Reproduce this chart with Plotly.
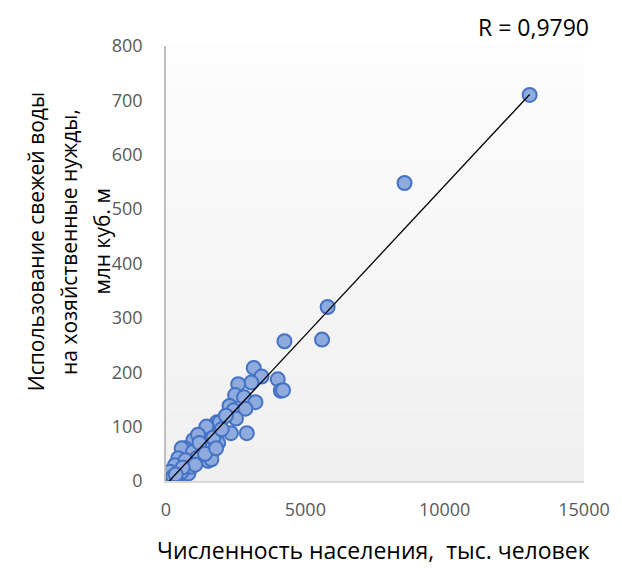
import numpy as np
import plotly.graph_objects as go

# население, тыс. человек
population = [
    13050, 8560, 5800, 5600, 4250, 3150, 3430, 3060, 2590, 4010,
    4120, 4200, 2480, 2800, 3210, 2280, 2430, 2850, 2510, 1830,
    1550, 1680, 2330, 2900, 1270, 980, 1870, 1510, 680, 1100,
    620, 1510, 980, 440, 800, 260, 560, 80, 25, 800,
    1930, 1450, 1150, 1320, 560, 970, 1630, 440, 1100, 740,
    320, 920, 140, 560, 260, 1200, 1700, 2000, 1400, 700,
    1050, 600, 350, 2150, 1800,
]
# использование свежей воды на хоз. нужды, млн куб. м
water_use = [
    710, 548, 320, 260, 257, 208, 192, 181, 178, 187,
    166, 167, 158, 154, 145, 138, 130, 133, 115, 108,
    97, 90, 88, 88, 78, 75, 70, 63, 60, 57,
    45, 37, 40, 30, 23, 20, 14, 8, 5, 14,
    108, 100, 85, 63, 60, 54, 40, 42, 42, 33,
    29, 26, 17, 17, 8, 70, 80, 95, 50, 38,
    30, 25, 12, 120, 60,
]
x_ticks = [0, 5000, 10000, 15000]
x_tick_text = ["0", "5000", "10000", "15000"]
y_ticks = [0, 100, 200, 300, 400, 500, 600, 700, 800]
r_label = "R = 0,9790"

FONT = "Open Sans"

x = np.array(population, dtype=float)
y = np.array(water_use, dtype=float)
slope, intercept = np.polyfit(x, y, 1)
trend_x = np.array([x.min(), x.max()])
trend_y = slope * trend_x + intercept

fig = go.Figure()

fig.add_trace(go.Scatter(
    x=population, y=water_use, mode="markers",
    marker=dict(size=14, color="#8FAADC", line=dict(color="#4472C4", width=2)),
    showlegend=False,
))
fig.add_trace(go.Scatter(
    x=trend_x, y=trend_y, mode="lines",
    line=dict(color="black", width=1.3),
    showlegend=False,
))

# gradient plot background
n_bands = 24
for i in range(n_bands):
    c = int(253 - 13 * i / (n_bands - 1))
    fig.add_shape(type="rect", xref="paper", yref="paper",
                  x0=0, x1=1, y0=1 - (i + 1) / n_bands, y1=1 - i / n_bands,
                  fillcolor=f"rgb({c},{c},{c})", line_width=0, layer="below")

# outer chart frame (only top and left visible)
fig.add_shape(type="rect", xref="paper", yref="paper",
              x0=-0.3815, x1=1.2, y0=-0.4, y1=1.0897,
              line=dict(color="#d9d9d9", width=1.5), fillcolor="rgba(0,0,0,0)")

fig.add_annotation(text=r_label, xref="paper", yref="paper", x=(595 - 166) / 422, y=(481 - 27) / 435,
                   xanchor="right", yanchor="middle", showarrow=False,
                   font=dict(family=FONT, size=23, color="black"))

fig.add_annotation(text="Численность населения,  тыс. человек",
                   xref="paper", yref="paper", x=(375 - 166) / 422, y=(481 - 550) / 435,
                   xanchor="center", yanchor="middle", showarrow=False,
                   font=dict(family=FONT, size=23, color="black"))

y_title_lines = ["Использование свежей воды", "на хозяйственные нужды,", "млн куб. м"]
for i, line in enumerate(y_title_lines):
    fig.add_annotation(text=line, xref="paper", yref="paper",
                       x=(35 + 33 * i - 166) / 422, y=(481 - 242) / 435,
                       xanchor="center", yanchor="middle", textangle=-90,
                       showarrow=False, font=dict(family=FONT, size=21, color="black"))

fig.update_layout(
    width=614, height=570,
    margin=dict(l=158, r=34, t=38, b=97),
    paper_bgcolor="white",
    plot_bgcolor="white",
    font=dict(family=FONT, color="#595959"),
    xaxis=dict(
        range=[0, 15000], tickvals=x_ticks, ticktext=x_tick_text,
        showgrid=False, zeroline=False,
        showline=True, linecolor="#d9d9d9", linewidth=1.5,
        ticks="", ticklabelstandoff=12, tickfont=dict(size=18, color="#595959"),
    ),
    yaxis=dict(
        range=[0, 800], tickvals=y_ticks, showgrid=False, zeroline=False,
        showline=True, linecolor="#bfbfbf", linewidth=1.5,
        ticks="", ticklabelstandoff=18, tickfont=dict(size=18, color="#595959"),
    ),
)

fig.write_html("out.html")
